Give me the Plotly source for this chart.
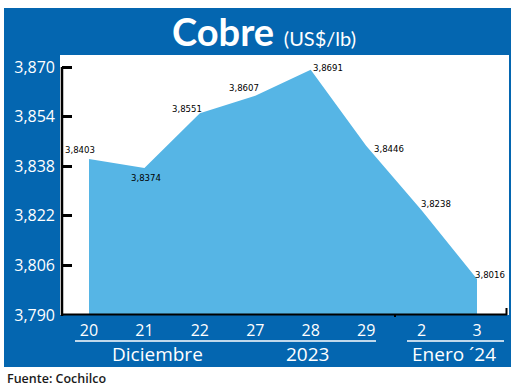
import plotly.graph_objects as go

# ---- data ----
days = ["20", "21", "22", "27", "28", "29", "2", "3"]
prices = [3.8403, 3.8374, 3.8551, 3.8607, 3.8691, 3.8446, 3.8238, 3.8016]
y_ticks = [3.790, 3.806, 3.822, 3.838, 3.854, 3.870]
groups = ["Diciembre", "2023", "Enero \u00b424"]
title_main = "Cobre"
title_unit = "(US$/lb)"
source = "Fuente: Cochilco"

# ---- style ----
W, H = 520, 389
L, R, T, B = 62, 9, 55, 74          # plot area: x 62..511, y 55..315
PW, PH = W - L - R, H - T - B
DARK = "#0466B0"
LIGHT = "#56B5E5"
FONT = "Open Sans"
LABEL_FONT = "DejaVu Sans Condensed"

def px(x):
    return (x - L) / PW

def py(y):
    return (H - B - y) / PH

y0 = 3.790
ytop = y0 + PH / 3100.0

fig = go.Figure()
fig.add_trace(go.Scatter(
    x=list(range(len(days))), y=prices, mode="lines",
    line=dict(width=0, color=LIGHT), fill="tozeroy", fillcolor=LIGHT,
    hoverinfo="skip", showlegend=False))

shapes = [
    dict(type="rect", xref="paper", yref="paper", x0=px(4), x1=px(511), y0=py(367), y1=py(8),
         fillcolor=DARK, line_width=0, layer="below"),
    dict(type="rect", xref="paper", yref="paper", x0=px(60), x1=px(509), y0=py(315), y1=py(55),
         fillcolor="white", line_width=0, layer="below"),
    dict(type="line", xref="paper", yref="paper", x0=px(62), x1=px(62), y0=py(316), y1=py(67),
         line=dict(color="black", width=2.5)),
    dict(type="line", xref="paper", yref="paper", x0=px(62), x1=px(507), y0=py(314.5), y1=py(314.5),
         line=dict(color="black", width=2)),
    dict(type="line", xref="paper", yref="paper", x0=px(506.5), x1=px(506.5), y0=py(315), y1=py(308),
         line=dict(color="black", width=2)),
    dict(type="line", xref="paper", yref="paper", x0=px(395), x1=px(395), y0=py(315), y1=py(317),
         line=dict(color="black", width=2)),
    dict(type="line", xref="paper", yref="paper", x0=px(75), x1=px(376), y0=py(341), y1=py(341),
         line=dict(color="white", width=1.5)),
    dict(type="line", xref="paper", yref="paper", x0=px(407), x1=px(504), y0=py(341), y1=py(341),
         line=dict(color="white", width=1.5)),
]

annotations = []
shifts = [(-9, 10), (2, -9), (-13, 5), (-11, 8), (17, 2), (23, -3), (14, 7), (13, 5)]
for i, (d, v) in enumerate(zip(days, prices)):
    dx, dy = shifts[i]
    annotations.append(dict(
        x=i, y=v, xref="x", yref="y", text=f"{v:.4f}".replace(".", ","),
        showarrow=False, xshift=dx, yshift=dy,
        font=dict(family=LABEL_FONT, size=9.5, color="black")))

annotations.append(dict(
    xref="paper", yref="paper", x=px(264), y=py(31), xanchor="center", yanchor="middle",
    text=f"<b>{title_main}</b> <span style='font-size:20px'>{title_unit}</span>",
    showarrow=False, font=dict(family="Lato", size=38, color="white")))

for g, xc in zip(groups, [157, 307, 454]):
    annotations.append(dict(
        xref="paper", yref="paper", x=px(xc), y=py(354), xanchor="center", yanchor="middle",
        text=g, showarrow=False, font=dict(family=FONT, size=19, color="white")))

annotations.append(dict(
    xref="paper", yref="paper", x=px(5), y=py(378), xanchor="left", yanchor="middle",
    text=source, showarrow=False, font=dict(family=FONT, size=12.5, color="#1a1a1a", weight=600)))

fig.update_layout(
    width=W, height=H, margin=dict(l=L, r=R, t=T, b=B, pad=0),
    paper_bgcolor="white", plot_bgcolor="white",
    separators=",.",
    shapes=shapes, annotations=annotations,
    xaxis=dict(
        tickmode="array", tickvals=list(range(len(days))), ticktext=days,
        range=[-(89 - L) / 55.43, 7 + (511 - 477) / 55.43],
        showgrid=False, zeroline=False, showline=False, ticks="",
        tickfont=dict(family=FONT, size=16, color="white"), ticklabelstandoff=4),
    yaxis=dict(
        range=[y0, ytop], tickvals=y_ticks, tickformat=".3f",
        showgrid=False, zeroline=False, showline=False,
        ticks="inside", ticklen=10, tickwidth=2.5, tickcolor="black",
        tickfont=dict(family=FONT, size=16, color="white"), ticklabelstandoff=6),
)

fig.write_html("out.html", config={"displayModeBar": False},
               post_script="document.body.style.margin='0px';document.body.style.padding='0px';")
